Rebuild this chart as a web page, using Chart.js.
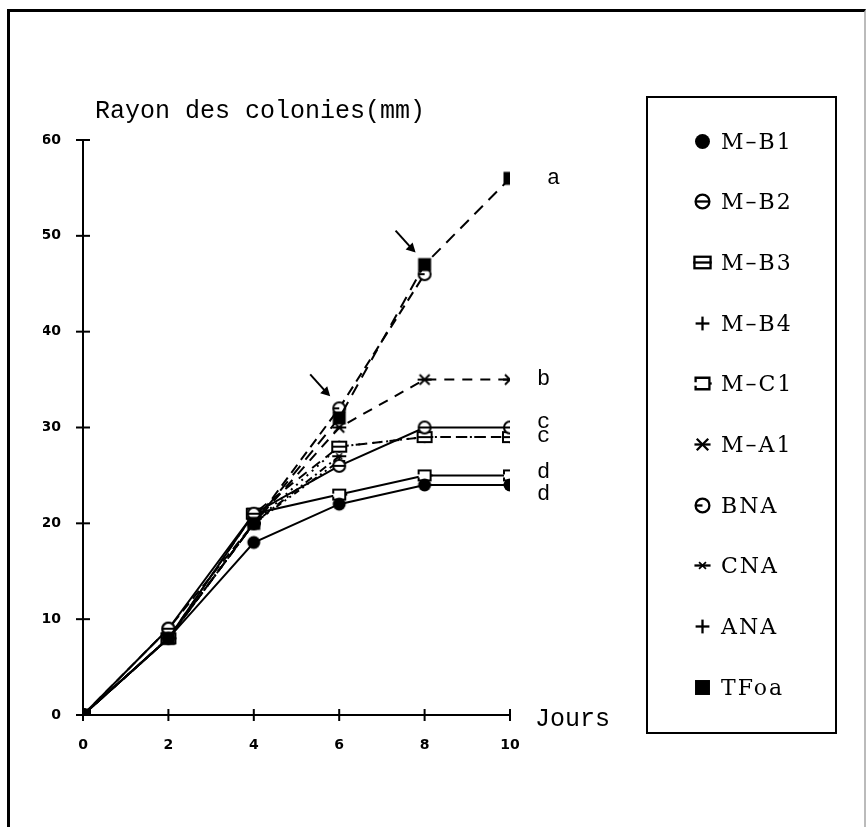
<!DOCTYPE html>
<html>
<head>
<meta charset="utf-8">
<script src="https://cdn.jsdelivr.net/npm/chart.js@4"></script>
<style>
  html, body { margin: 0; padding: 0; background: #fff; }
  #page { position: relative; width: 866px; height: 827px; overflow: hidden; }
  #frame { position: absolute; left: 7px; top: 9px; width: 854px; height: 830px;
           border-left: 3px solid #000; border-top: 3px solid #000; border-right: 2px solid #bbb; }
  #chart { position: absolute; left: 0; top: 0; }
  #legend { position: absolute; left: 646px; top: 96px; width: 187px; height: 634px; border: 2px solid #000; }
  .item { position: absolute; left: 0; height: 30px; display: flex; align-items: center;
          font-family: "DejaVu Serif"; font-size: 22px; letter-spacing: 2px; color: #000; }
  .item canvas { margin-left: 44px; margin-right: 8px; }
</style>
</head>
<body>
<div id="page">
  <div id="frame"></div>
  <canvas id="chart" width="866" height="827"></canvas>
  <div id="legend"></div>
</div>
<script>
// days
const days = [0, 2, 4, 6, 8, 10];

// colony radius (mm) per strain
const mB1  = [0, 8, 18, 22, 24, 24];
const mB2  = [0, 9, 21, 26, 30, 30];
const mB3  = [0, 8, 21, 28, 29, 29];
const mB4  = [0, 8, 20, 28, 29, 29];
const mC1  = [0, 8, 21, 23, 25, 25];
const mA1  = [0, 8, 20, 30, 35, 35];
const bna  = [0, 9, 20, 32, 46, null];
const cna  = [0, 8, 20, 27, null, null];
const ana  = [0, 8, 20, 26.5, null, null];
const tfoa = [0, 8, 20, 31, 47, 56];

const names = ["M–B1", "M–B2", "M–B3", "M–B4", "M–C1", "M–A1", "BNA", "CNA", "ANA", "TFoa"];

// axis ticks
const xTicks = [0, 2, 4, 6, 8, 10];
const yTicks = [0, 10, 20, 30, 40, 50, 60];

// group letters at the end of the curves
const groupLetters = ["a", "b", "c", "c", "d", "d"];
const groupLevels  = [56, 35, 30.6, 29.1, 25.3, 23];

// small symbol drawn on its own canvas
function marker(kind, s) {
  s = s || 1;
  const c = document.createElement("canvas");
  c.width = Math.round(18 * s); c.height = Math.round(18 * s);
  const g = c.getContext("2d");
  g.translate(c.width / 2, c.height / 2);
  g.scale(s, s);
  g.strokeStyle = "#000"; g.fillStyle = "#000"; g.lineWidth = 2;
  const seg = (a, b, d, e) => { g.beginPath(); g.moveTo(a, b); g.lineTo(d, e); g.stroke(); };
  const ring = () => {
    g.beginPath(); g.arc(0, 0, 6, 0, Math.PI * 2);
    g.fillStyle = "#fff"; g.fill(); g.stroke(); g.fillStyle = "#000";
  };
  switch (kind) {
    case "dot":
      g.beginPath(); g.arc(0, 0, 6.5, 0, Math.PI * 2); g.fill(); break;
    case "circleBar":
      ring(); seg(-6, 0, 6, 0); break;
    case "boxBar":
      g.fillStyle = "#fff"; g.fillRect(-7, -5, 14, 10); g.strokeRect(-7, -5, 14, 10);
      seg(-8, 0, 8, 0); break;
    case "plus":
      seg(-6, 0, 6, 0); seg(0, -6, 0, 6); break;
    case "boxOpen":
      g.fillStyle = "#fff"; g.fillRect(-6, -5, 12, 10);
      g.beginPath(); g.moveTo(-6, -1); g.lineTo(-6, -5); g.lineTo(6, -5); g.lineTo(6, 5);
      g.lineTo(-6, 5); g.lineTo(-6, 2); g.stroke();
      seg(6, 0, 8, 0); break;
    case "crossBar":
      seg(-5, -5, 5, 5); seg(-5, 5, 5, -5); seg(-7, 0, 7, 0); break;
    case "circleHalf":
      ring(); seg(-6, 0, 0, 0); break;
    case "divide":
      seg(-7, 0, 7, 0);
      g.lineWidth = 1.5; seg(-3, -3, 3, 3); seg(-3, 3, 3, -3); break;
    case "square":
      g.fillRect(-6.5, -6.5, 13, 13); break;
  }
  return c;
}

const kinds = ["dot", "circleBar", "boxBar", "plus", "boxOpen", "crossBar", "circleHalf", "divide", "plus", "square"];
const series = [mB1, mB2, mB3, mB4, mC1, mA1, bna, cna, ana, tfoa];
const dashes = [[], [], [10, 7], [2, 5], [], [10, 8], [10, 6], [8, 4, 2, 4], [6, 4, 2, 4, 2, 4], [12, 8]];

const datasets = series.map((vals, i) => ({
  label: names[i],
  data: days.map((d, j) => ({ x: d, y: vals[j] })),
  borderColor: "#000",
  borderWidth: 2,
  borderDash: dashes[i],
  pointStyle: marker(kinds[i]),
  pointRadius: 7,
  spanGaps: false,
  order: i === 9 ? -1 : 0
}));

// crossing ticks, titles, letters and arrows
const extras = {
  id: "extras",
  afterDraw(chart) {
    const { ctx } = chart;
    const x = chart.scales.x, y = chart.scales.y;
    ctx.save();
    ctx.strokeStyle = "#000";
    ctx.fillStyle = "#000";
    ctx.lineWidth = 2;
    const seg = (a, b, d, e) => { ctx.beginPath(); ctx.moveTo(a, b); ctx.lineTo(d, e); ctx.stroke(); };
    xTicks.forEach(v => { const p = x.getPixelForValue(v); seg(p, y.bottom - 6, p, y.bottom + 6); });
    yTicks.forEach(v => { const p = y.getPixelForValue(v); seg(x.left - 7, p, x.left + 7, p); });

    ctx.font = '25px "Liberation Mono"';
    ctx.textBaseline = "alphabetic";
    ctx.fillText("Rayon des colonies(mm)", x.left + 12, y.top - 22);
    ctx.textBaseline = "middle";
    ctx.fillText("Jours", x.right + 25, y.bottom + 4);

    ctx.font = '22px "Liberation Mono"';
    groupLetters.forEach((t, i) => {
      ctx.fillText(t, x.right + (i === 0 ? 37 : 27), y.getPixelForValue(groupLevels[i]));
    });

    // arrows pointing at TFoa day 8 and BNA day 6
    [[8, tfoa[4]], [6, bna[3]]].forEach(([dx, dy]) => {
      const tx = x.getPixelForValue(dx) - 9, ty = y.getPixelForValue(dy) - 12;
      seg(tx - 20, ty - 22, tx - 2, ty - 2);
      ctx.beginPath();
      ctx.moveTo(tx, ty);
      ctx.lineTo(tx - 10, ty - 3);
      ctx.lineTo(tx - 3, ty - 10);
      ctx.closePath();
      ctx.fill();
    });
    ctx.restore();
  }
};

new Chart(document.getElementById("chart"), {
  type: "line",
  data: { datasets },
  options: {
    responsive: false,
    animation: false,
    layout: { padding: { left: 43, right: 356, top: 140, bottom: 72 } },
    plugins: { legend: { display: false }, tooltip: { enabled: false } },
    scales: {
      x: {
        type: "linear", min: 0, max: 10,
        afterBuildTicks: s => { s.ticks = xTicks.map(v => ({ value: v })); },
        afterFit: s => { s.height = 40; },
        grid: { display: false, drawTicks: false },
        border: { color: "#000", width: 2 },
        ticks: { color: "#000", padding: 22, font: { family: "DejaVu Sans", size: 14, weight: "bold" } }
      },
      y: {
        min: 0, max: 60,
        afterBuildTicks: s => { s.ticks = yTicks.map(v => ({ value: v })); },
        afterFit: s => { s.width = 40; },
        grid: { display: false, drawTicks: false },
        border: { color: "#000", width: 2 },
        ticks: { color: "#000", padding: 22, font: { family: "DejaVu Sans", size: 14, weight: "bold" } }
      }
    }
  },
  plugins: [extras]
});

// html legend
const legend = document.getElementById("legend");
names.forEach((n, i) => {
  const row = document.createElement("div");
  row.className = "item";
  row.style.top = (43 + i * 60.7 - 15) + "px";
  row.appendChild(marker(kinds[i], 1.15));
  const span = document.createElement("span");
  span.textContent = n;
  row.appendChild(span);
  legend.appendChild(row);
});
</script>
</body>
</html>
